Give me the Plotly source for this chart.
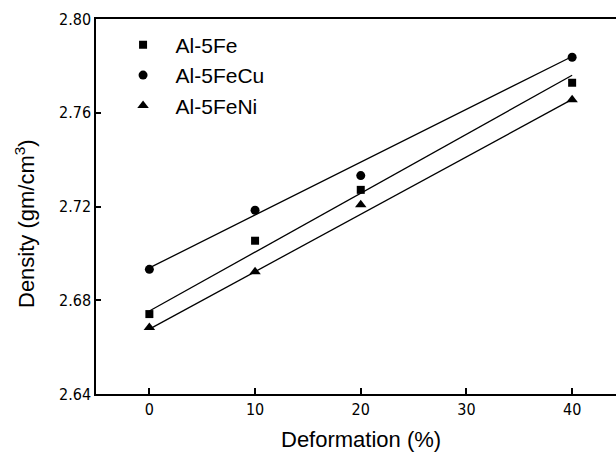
import plotly.graph_objects as go

deformation = [0, 10, 20, 40]
series_names = ["Al-5Fe", "Al-5FeCu", "Al-5FeNi"]
density_fe = [2.6741, 2.7054, 2.7271, 2.7728]
density_fecu = [2.6932, 2.7184, 2.7332, 2.7837]
density_feni = [2.6684, 2.6922, 2.7208, 2.7656]
fit_x = [0, 40]
fit_fe = [2.6754, 2.7760]
fit_fecu = [2.6938, 2.7840]
fit_feni = [2.6677, 2.7657]
x_ticks = [0, 10, 20, 30, 40]
y_ticks = [2.64, 2.68, 2.72, 2.76, 2.80]
y_tick_labels = ["2.64", "2.68", "2.72", "2.76", "2.80"]

symbols = ["square", "circle", "triangle-up"]
sizes = [8, 9, 10]
values = [density_fe, density_fecu, density_feni]
fits = [fit_fe, fit_fecu, fit_feni]

fig = go.Figure()
for fit in fits:
    fig.add_trace(go.Scatter(x=fit_x, y=fit, mode="lines",
                             line=dict(color="black", width=1.3),
                             showlegend=False, hoverinfo="skip"))
for name, vals, sym, sz in zip(series_names, values, symbols, sizes):
    fig.add_trace(go.Scatter(x=deformation, y=vals, mode="markers", name=name,
                             legendgroup=name,
                             marker=dict(symbol=sym, size=sz, color="black")))

tick_font = dict(family="DejaVu Sans Condensed, Liberation Sans Narrow, sans-serif",
                 size=16, color="black")

fig.update_layout(
    width=616, height=454,
    margin=dict(l=96, r=0, t=19, b=60),
    paper_bgcolor="white", plot_bgcolor="white",
    font=dict(family="Liberation Sans, Arial, sans-serif", color="black"),
    showlegend=True,
    legend=dict(x=0.028, y=0.985, xanchor="left", yanchor="top",
                font=dict(size=21, color="black", family="Liberation Sans, Arial, sans-serif"),
                bgcolor="rgba(0,0,0,0)", traceorder="grouped", tracegroupgap=0,
                itemwidth=55),
    xaxis=dict(range=[-5.05, 44.15], tickvals=x_ticks, ticks="inside", ticklen=6,
               tickwidth=1.5, tickcolor="black", showline=True, linecolor="black",
               linewidth=1.5, mirror=True, showgrid=False, zeroline=False,
               tickfont=tick_font),
    yaxis=dict(range=[2.64, 2.80], tickvals=y_ticks, ticktext=y_tick_labels,
               ticks="inside", ticklen=5, tickwidth=1.5, tickcolor="black",
               showline=True, linecolor="black", linewidth=1.5, mirror=False,
               showgrid=False, zeroline=False, tickfont=tick_font),
    annotations=[
        dict(text="Deformation (%)", xref="paper", yref="paper",
             x=(361 - 96) / 520, y=-(439 - 394) / 375, xanchor="center", yanchor="middle",
             showarrow=False, font=dict(size=22, color="black")),
        dict(text="Density (gm/cm<sup>3</sup>)", xref="paper", yref="paper",
             x=-(96 - 25) / 520, y=(394 - 224) / 375, xanchor="center", yanchor="middle",
             textangle=-90, showarrow=False, font=dict(size=22, color="black")),
    ],
)

fig.write_html("out.html", config={"displayModeBar": False},
               post_script="document.body.style.margin='0';")
